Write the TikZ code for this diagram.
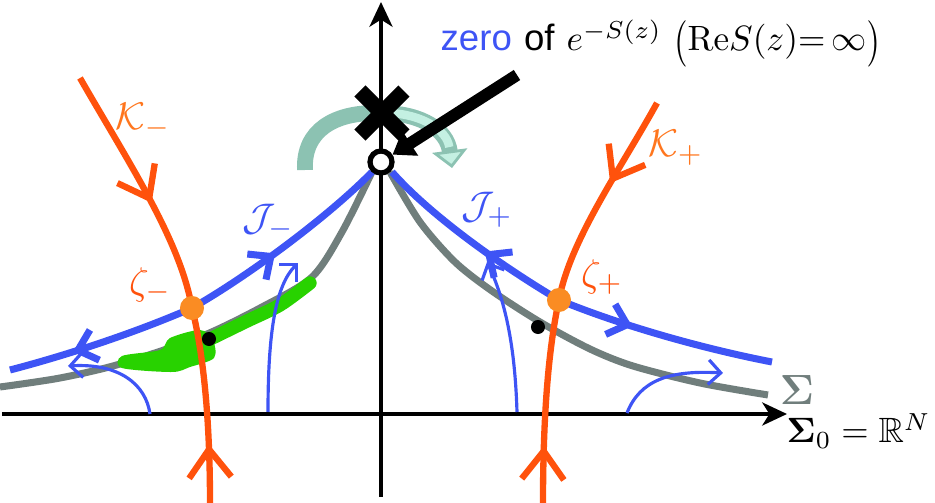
\documentclass[tikz,border=0pt]{standalone}
\usepackage{amsmath,amssymb,graphicx}
\usepackage[no-math]{fontspec}
\newfontfamily\labelfont{Liberation Sans}
\usetikzlibrary{arrows.meta,decorations.markings}
\newcommand{\tallparen}[1]{\raisebox{-0.28ex}{\scalebox{1}[1.32]{$#1$}}}
\definecolor{jblue}{RGB}{62,84,245}
\definecolor{kred}{RGB}{255,82,12}
\definecolor{klabel}{RGB}{255,118,30}
\definecolor{szeta}{RGB}{250,140,35}
\definecolor{sgray}{RGB}{112,126,124}
\definecolor{blob}{RGB}{40,210,0}
\definecolor{tealdark}{RGB}{140,194,178}
\definecolor{mint}{RGB}{196,240,226}
\begin{document}
\begin{tikzpicture}[x=0.01cm, y=-0.01cm,
	axis/.style={line width=1.2pt, -{Stealth[length=7pt,width=6.5pt,inset=2pt]}},
	jline/.style={jblue, line width=2pt},
	kline/.style={kred, line width=1.8pt},
	flow/.style={jblue, line width=0.9pt, -{Straight Barb[length=3.5pt,width=7pt]}},
	jarrow/.style={postaction={decorate}, decoration={markings,
		mark=at position #1 with {\arrow{Straight Barb[length=5pt,width=9pt]}}}},
	karrow/.style={postaction={decorate}, decoration={markings,
		mark=at position #1 with {\arrow{Straight Barb[length=8pt,width=12pt]}}}},
	zetadot/.style={circle, fill=szeta, inner sep=0pt, minimum size=0.24cm},
	dot/.style={circle, fill=black, inner sep=0pt, minimum size=0.14cm},
	zerodot/.style={circle, draw=black, fill=white, line width=1.5pt, inner sep=0pt, minimum size=0.22cm},
	lbl/.style={font=\fontsize{11}{13}\selectfont}]
	\useasboundingbox (0,0) rectangle (935,503);
	% Trục tọa độ
	\draw[axis] (2,414) -- (787,414);
	\draw[axis] (381,497) -- (381,2);
	\coordinate (zm) at (192,308);
	\coordinate (zp) at (559,300);
	% Mặt Sigma
	\draw[sgray, line width=2pt] plot[smooth] coordinates {(0,387) (60,378) (120,364) (200,337) (262,307) (312,277) (342,232) (372,172)};
	\draw[sgray, line width=2pt] plot[smooth] coordinates {(390,172) (420,222) (455,262) (492,291) (540,322) (590,349) (633,366) (700,383) (768,395)};
	\fill[blob] plot[smooth cycle] coordinates {(122,356) (160,350) (170,338) (200,330) (213,340) (214,358) (190,367) (172,372) (122,368)};
	\draw[blob, line width=3.8pt, line cap=round] plot[smooth] coordinates {(200,344) (245,322) (280,305) (310,283)};
	% Đường J
	\draw[jline, jarrow=0.44] (zm) .. controls (250,275) and (330,215) .. (372,172);
	\draw[jline, jarrow=0.66] (zm) .. controls (130,335) and (60,357) .. (10,370);
	\draw[jline, jarrow=0.42] (zp) .. controls (500,265) and (430,215) .. (392,172);
	\draw[jline, jarrow=0.35] (zp) .. controls (620,325) and (700,348) .. (772,362);
	% Dòng chảy
	\draw[flow] (150,414) .. controls (146,385) and (120,363) .. (68,366);
	\draw[flow] (268,412) .. controls (268,330) and (276,285) .. (298,263);
	\draw[flow] (517,412) .. controls (515,345) and (505,300) .. (487,262);
	\draw[flow] (627,413) .. controls (640,380) and (670,370) .. (723,373);
	% Đường K
	\draw[kline, karrow=0.56] (80,78) .. controls (130,165) and (180,240) .. (zm);
	\draw[kline, karrow=0.3] (210,503) .. controls (210,430) and (205,360) .. (zm);
	\draw[kline, karrow=0.42] (657,103) .. controls (620,170) and (570,240) .. (zp);
	\draw[kline, karrow=0.28] (543,503) .. controls (543,420) and (548,350) .. (zp);
	\node[zetadot] (zetam) at (zm) {};
	\node[zetadot] (zetap) at (zp) {};
	\node[dot] (pm) at (209,339) {};
	\node[dot] (pp) at (538,327) {};
	% Mũi tên cong
	\draw[tealdark, line width=4.5pt] (305,170) .. controls (303,130) and (335,113) .. (375,113);
	\draw[tealdark, line width=4.5pt, -{Triangle[length=5pt,width=10pt,fill=mint,line width=0.8pt]}] (385,113) .. controls (422,114) and (447,130) .. (452,168);
	\draw[mint, line width=2.4pt, shorten >=6pt] (388,113) .. controls (422,114) and (447,130) .. (452,168);
	\draw[line width=4.5pt] (360,91) -- (404,135) (360,135) -- (404,91);
	\node[zerodot] (O) at (381,162) {};
	\coordinate (ptr) at (517,75);
	\draw[line width=3.4pt, -{Triangle[length=6pt,width=8pt]}] (ptr) -- (O);
	% Nhãn
	\node[font=\fontsize{10.4}{12}\selectfont, anchor=base west, inner sep=0pt] (zero) at (440,51) {{\labelfont\color{jblue}zero} {\labelfont of} $e^{-S(z)}\ \tallparen{(}\mathrm{Re}S(z){=}\,\infty\tallparen{)}$};
	\node[lbl, klabel] (Km) at (143,121) {$\mathcal{K}_-$};
	\node[lbl, klabel] (Kp) at (676,148) {$\mathcal{K}_+$};
	\node[lbl, jblue] (Jm) at (268,222) {$\mathcal{J}_-$};
	\node[lbl, jblue] (Jp) at (487,210) {$\mathcal{J}_+$};
	\node[lbl, kred] (Zm) at (150,285) {$\zeta_-$};
	\node[lbl, kred] (Zp) at (602,277) {$\zeta_+$};
	\node[font=\fontsize{12.5}{14}\selectfont, sgray] (S) at (797,390) {$\mathbf{\Sigma}$};
	\node[font=\fontsize{10}{12}\selectfont, anchor=base west, inner sep=0pt] (S0) at (786,443) {$\mathbf{\Sigma}_0=\mathbb{R}^N$};
\end{tikzpicture}
\end{document}
